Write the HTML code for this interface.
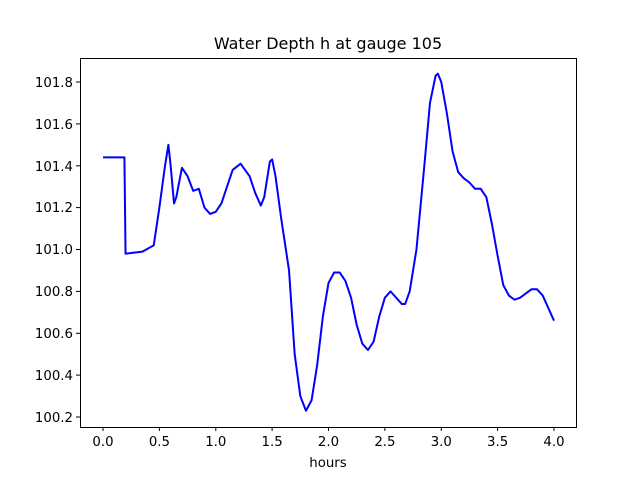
<!DOCTYPE html>
<html><head><meta charset="utf-8"><style>body{margin:0;background:#fff}svg{display:block}text{font-family:"DejaVu Sans","Liberation Sans",sans-serif;fill:#000}</style></head><body>
<svg width="640" height="480" viewBox="0 0 640 480">
<rect width="640" height="480" fill="#fff"/>
<text x="328" y="49" font-size="16" text-anchor="middle">Water Depth h at gauge 105</text>
<g transform="translate(103,417) scale(112.75,-209.375)">
<polyline fill="none" stroke="#0000ff" stroke-width="2" vector-effect="non-scaling-stroke" stroke-linejoin="round" points="0,1.24 .19,1.24 .2,.78 .35,.79 .45,.82 .5,1.0 .55,1.2 .58,1.3 .6,1.2 .63,1.02 .65,1.05 .7,1.19 .75,1.15 .8,1.08 .85,1.09 .9,1.0 .95,.97 1,.98 1.05,1.02 1.1,1.1 1.15,1.18 1.22,1.21 1.3,1.15 1.35,1.07 1.4,1.01 1.43,1.05 1.48,1.22 1.5,1.23 1.53,1.15 1.58,.95 1.65,.7 1.7,.3 1.75,.1 1.8,.03 1.85,.08 1.9,.25 1.95,.48 2,.64 2.05,.69 2.1,.69 2.15,.65 2.2,.57 2.25,.44 2.3,.35 2.35,.32 2.4,.36 2.45,.48 2.5,.57 2.55,.6 2.6,.57 2.65,.54 2.68,.54 2.72,.6 2.78,.8 2.85,1.2 2.9,1.5 2.95,1.63 2.97,1.64 3,1.6 3.05,1.45 3.1,1.27 3.15,1.17 3.2,1.14 3.25,1.12 3.3,1.09 3.35,1.09 3.4,1.05 3.45,.92 3.5,.77 3.55,.63 3.6,.58 3.65,.56 3.7,.57 3.75,.59 3.8,.61 3.85,.61 3.9,.58 3.95,.52 4,.46"/>
</g>
<rect x="80.5" y="58.5" width="496" height="369" fill="none" stroke="#000" stroke-width="1"/>
<g stroke="#000" stroke-width="1">
<line x1="103" y1="427" x2="103" y2="431"/><line x1="159.4" y1="427" x2="159.4" y2="431"/><line x1="215.8" y1="427" x2="215.8" y2="431"/><line x1="272.1" y1="427" x2="272.1" y2="431"/><line x1="328.5" y1="427" x2="328.5" y2="431"/><line x1="384.9" y1="427" x2="384.9" y2="431"/><line x1="441.3" y1="427" x2="441.3" y2="431"/><line x1="497.6" y1="427" x2="497.6" y2="431"/><line x1="554" y1="427" x2="554" y2="431"/>
<line x1="76" y1="417" x2="80" y2="417"/><line x1="76" y1="375.1" x2="80" y2="375.1"/><line x1="76" y1="333.3" x2="80" y2="333.3"/><line x1="76" y1="291.4" x2="80" y2="291.4"/><line x1="76" y1="249.5" x2="80" y2="249.5"/><line x1="76" y1="207.6" x2="80" y2="207.6"/><line x1="76" y1="165.8" x2="80" y2="165.8"/><line x1="76" y1="123.9" x2="80" y2="123.9"/><line x1="76" y1="82" x2="80" y2="82"/>
</g>
<g font-size="13.3" text-anchor="middle">
<text x="103" y="446">0.0</text><text x="159.4" y="446">0.5</text><text x="215.8" y="446">1.0</text><text x="272.1" y="446">1.5</text><text x="328.5" y="446">2.0</text><text x="384.9" y="446">2.5</text><text x="441.3" y="446">3.0</text><text x="497.6" y="446">3.5</text><text x="554" y="446">4.0</text>
<text x="328" y="467">hours</text>
</g>
<g font-size="13.3" text-anchor="end">
<text x="73" y="422">100.2</text><text x="73" y="380">100.4</text><text x="73" y="338">100.6</text><text x="73" y="296">100.8</text><text x="73" y="254">101.0</text><text x="73" y="212">101.2</text><text x="73" y="171">101.4</text><text x="73" y="129">101.6</text><text x="73" y="87">101.8</text>
</g>
</svg>
</body></html>
